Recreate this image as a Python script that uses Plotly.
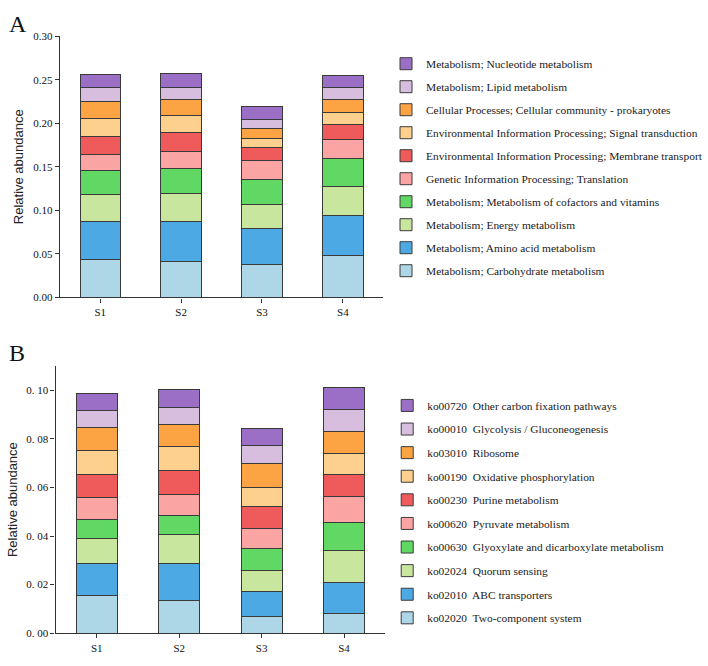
import plotly.graph_objects as go

samples = ["S1", "S2", "S3", "S4"]

# Panel A categories (bottom to top of stack)
cats_a = [
    "Metabolism; Carbohydrate metabolism",
    "Metabolism; Amino acid metabolism",
    "Metabolism; Energy metabolism",
    "Metabolism; Metabolism of cofactors and vitamins",
    "Genetic Information Processing; Translation",
    "Environmental Information Processing; Membrane transport",
    "Environmental Information Processing; Signal transduction",
    "Cellular Processes; Cellular community - prokaryotes",
    "Metabolism; Lipid metabolism",
    "Metabolism; Nucleotide metabolism",
]
carb_a = [0.0430, 0.0417, 0.0383, 0.0481]
amino_a = [0.0440, 0.0459, 0.0406, 0.0459]
energy_a = [0.0316, 0.0319, 0.0282, 0.0338]
cofac_a = [0.0275, 0.0290, 0.0282, 0.0316]
transl_a = [0.0184, 0.0192, 0.0215, 0.0222]
membr_a = [0.0200, 0.0218, 0.0150, 0.0173]
signal_a = [0.0211, 0.0191, 0.0109, 0.0131]
cellular_a = [0.0191, 0.0192, 0.0117, 0.0158]
lipid_a = [0.0162, 0.0136, 0.0101, 0.0128]
nucleo_a = [0.0154, 0.0161, 0.0147, 0.0147]
values_a = [carb_a, amino_a, energy_a, cofac_a, transl_a, membr_a,
            signal_a, cellular_a, lipid_a, nucleo_a]

# Panel B categories (bottom to top of stack)
cats_b = [
    "ko02020  Two-component system",
    "ko02010  ABC transporters",
    "ko02024  Quorum sensing",
    "ko00630  Glyoxylate and dicarboxylate metabolism",
    "ko00620  Pyruvate metabolism",
    "ko00230  Purine metabolism",
    "ko00190  Oxidative phosphorylation",
    "ko03010  Ribosome",
    "ko00010  Glycolysis / Gluconeogenesis",
    "ko00720  Other carbon fixation pathways",
]
ko02020 = [0.0155, 0.0135, 0.0069, 0.0080]
ko02010 = [0.0131, 0.0151, 0.0104, 0.0128]
ko02024 = [0.0104, 0.0119, 0.0087, 0.0133]
ko00630 = [0.0080, 0.0081, 0.0088, 0.0115]
ko00620 = [0.0087, 0.0085, 0.0085, 0.0108]
ko00230 = [0.0098, 0.0101, 0.0087, 0.0091]
ko00190 = [0.0099, 0.0097, 0.0082, 0.0087]
ko03010 = [0.0095, 0.0091, 0.0097, 0.0089]
ko00010 = [0.0067, 0.0070, 0.0072, 0.0092]
ko00720 = [0.0072, 0.0073, 0.0074, 0.0088]
values_b = [ko02020, ko02010, ko02024, ko00630, ko00620, ko00230,
            ko00190, ko03010, ko00010, ko00720]

colors = ["#ADD7E6", "#4DA9E4", "#C9E69F", "#62D864", "#FBA4A4",
          "#EF5B5B", "#FDD08E", "#FCA344", "#D7BDDE", "#9B6FC6"]

ticks_a = [0.0, 0.05, 0.10, 0.15, 0.20, 0.25, 0.30]
ticklabels_a = ["0.00", "0.05", "0.10", "0.15", "0.20", "0.25", "0.30"]
ticks_b = [0.0, 0.02, 0.04, 0.06, 0.08, 0.10]
ticklabels_b = ["0. 00", "0. 02", "0. 04", "0. 06", "0. 08", "0. 10"]

SERIF = "Liberation Serif"
SANS = "Liberation Sans"
W, H = 708, 666

fig = go.Figure()
n = len(cats_a)
for i, (name, vals) in enumerate(zip(cats_a, values_a)):
    fig.add_trace(go.Bar(
        x=samples, y=vals, name=name, marker_color=colors[i],
        marker_line=dict(color="#3a3a3a", width=1), width=0.5,
        xaxis="x", yaxis="y", legend="legend", legendgroup="a%d" % i,
        legendrank=n - i,
    ))
for i, (name, vals) in enumerate(zip(cats_b, values_b)):
    fig.add_trace(go.Bar(
        x=samples, y=vals, name=name, marker_color=colors[i],
        marker_line=dict(color="#3a3a3a", width=1), width=0.5,
        xaxis="x2", yaxis="y2", legend="legend2", legendgroup="b%d" % i,
        legendrank=n - i,
    ))

axis_common = dict(
    showline=True, linecolor="#333333", linewidth=1.3,
    ticks="outside", ticklen=4, tickcolor="#333333", tickwidth=1,
    showgrid=False, zeroline=False,
    tickfont=dict(family=SERIF, size=11, color="#111111"),
)

legend_common = dict(
    xanchor="left", yanchor="top", traceorder="grouped",
    font=dict(family=SERIF, size=11.4, color="#1a1a1a"),
    bgcolor="rgba(0,0,0,0)",
)

fig.update_layout(
    width=W, height=H,
    margin=dict(l=0, r=0, t=0, b=0),
    paper_bgcolor="white", plot_bgcolor="white",
    barmode="stack",
    xaxis=dict(domain=[61 / W, 391 / W], anchor="y", range=[-0.5, 3.5],
               **axis_common),
    yaxis=dict(domain=[(H - 296.7) / H, (H - 30.7) / H], anchor="x",
               range=[0, 0.30], tickvals=ticks_a, ticktext=ticklabels_a,
               title=dict(text="Relative abundance", standoff=6,
                          font=dict(family=SANS, size=13, color="#222222")),
               **axis_common),
    xaxis2=dict(domain=[56.7 / W, 393 / W], anchor="y2", range=[-0.5, 3.5],
                **axis_common),
    yaxis2=dict(domain=[(H - 638.7) / H, (H - 366.7) / H], anchor="x2",
                range=[0, 0.11], tickvals=ticks_b, ticktext=ticklabels_b,
                title=dict(text="Relative abundance", standoff=5,
                           font=dict(family=SANS, size=13, color="#222222")),
                **axis_common),
    legend=dict(x=394 / W, y=(H - 44) / H, tracegroupgap=4,
                **legend_common),
    legend2=dict(x=395 / W, y=(H - 392) / H, tracegroupgap=4.6,
                 **legend_common),
    showlegend=True,
    annotations=[
        dict(text="A", x=7 / W, y=(H - 3) / H, xref="paper", yref="paper",
             xanchor="left", yanchor="top", showarrow=False,
             font=dict(family=SERIF, size=24, color="#111111")),
        dict(text="B", x=7 / W, y=(H - 338) / H, xref="paper", yref="paper",
             xanchor="left", yanchor="top", showarrow=False,
             font=dict(family=SERIF, size=24, color="#111111")),
    ],
)

fig.write_html("out.html")
